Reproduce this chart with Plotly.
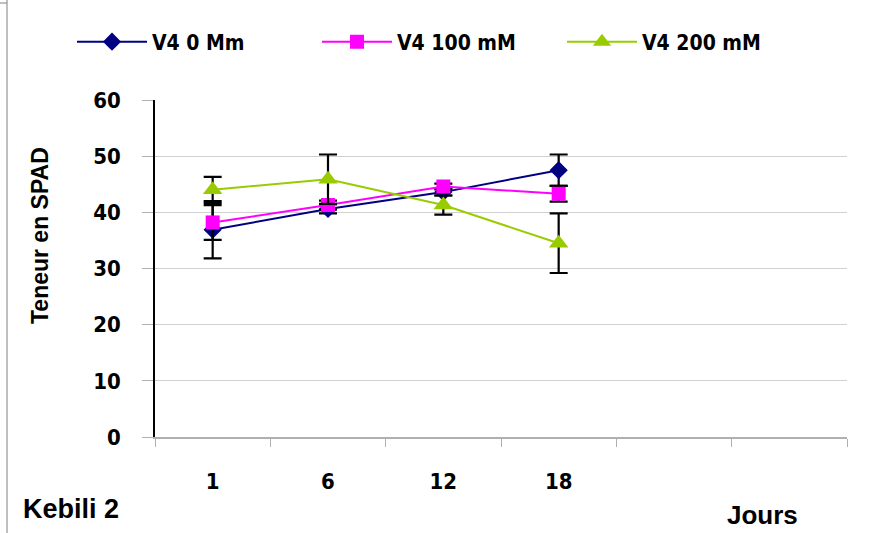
import plotly.graph_objects as go

days = ["1", "6", "12", "18"]
slots = days + [" ", "  "]  # Excel-style empty categories on the axis

series_names = ["V4 0 Mm", "V4 100 mM", "V4 200 mM"]
v0 = [36.9, 40.6, 43.6, 47.5]
v0_err = [5.1, 0.8, 0.6, 2.8]
v100 = [38.2, 41.3, 44.6, 43.3]
v100_err = [3.1, 0.8, 0.5, 1.4]
v200 = [44.0, 45.9, 41.3, 34.5]
v200_err = [2.3, 4.4, 1.7, 5.3]

colors = ["#000080", "#FF00FF", "#99CC00"]
symbols = ["diamond", "square", "triangle-up"]
sizes = [14, 14, 17]

W, H = 870, 533
L, R, T, B = 155, 23, 100, 96
pw = W - L - R
ph = H - T - B

cond = "DejaVu Sans Condensed, Liberation Sans Narrow, sans-serif"

fig = go.Figure()
for name, vals, errs, c, s, sz in zip(series_names, [v0, v100, v200],
                                      [v0_err, v100_err, v200_err],
                                      colors, symbols, sizes):
    fig.add_trace(go.Scatter(
        x=days, y=vals, name=name, mode="lines+markers",
        line=dict(color=c, width=2),
        marker=dict(symbol=s, size=sz, color=c, line=dict(width=0)),
        error_y=dict(type="data", array=errs, visible=True,
                     color="black", thickness=2.2, width=9),
    ))

fig.update_layout(
    width=W, height=H,
    margin=dict(l=L, r=R, t=T, b=B, pad=0, autoexpand=False),
    paper_bgcolor="white", plot_bgcolor="white",
    showlegend=True,
    legend=dict(orientation="h", x=(72 - L) / pw, xanchor="left",
                y=1 + (T - 42) / ph, yanchor="middle",
                font=dict(family=cond, size=21, color="black", weight="bold"),
                entrywidth=160, entrywidthmode="pixels",
                itemwidth=70, bgcolor="rgba(0,0,0,0)"),
    xaxis=dict(type="category", categoryorder="array", categoryarray=slots,
               range=[-0.5, len(slots) - 0.5],
               showline=True, linecolor="#b0b0b0", linewidth=1.5,
               ticks="outside", tickson="boundaries", ticklen=8,
               tickcolor="#b0b0b0", showgrid=False,
               tickfont=dict(family=cond, size=22, color="black", weight="bold"),
               ticklabelstandoff=24),
    yaxis=dict(range=[0, 60], tickvals=[0, 10, 20, 30, 40, 50, 60],
               showline=True, linecolor="black", linewidth=1.5,
               ticks="outside", ticklen=11, tickcolor="#b0b0b0",
               showgrid=True, gridcolor="#d0d0d0", gridwidth=1,
               zeroline=False,
               tickfont=dict(family=cond, size=22, color="black", weight="bold"),
               ticklabelstandoff=17),
    annotations=[
        dict(text="Teneur en SPAD", xref="paper", yref="paper",
             x=(40 - L) / pw, y=(437 - 236) / ph,
             textangle=-90, showarrow=False, xanchor="center", yanchor="middle",
             font=dict(family="Liberation Sans, Arial", size=23, color="black",
                       weight="bold")),
        dict(text="Kebili 2", xref="paper", yref="paper",
             x=(21 - L) / pw, y=(437 - 509) / ph,
             showarrow=False, xanchor="left", yanchor="middle",
             font=dict(family="Liberation Sans, Arial", size=27, color="black",
                       weight="bold")),
        dict(text="Jours", xref="paper", yref="paper",
             x=(762 - L) / pw, y=(437 - 515) / ph,
             showarrow=False, xanchor="center", yanchor="middle",
             font=dict(family="Liberation Sans, Arial", size=26, color="black",
                       weight="bold")),
    ],
    shapes=[
        dict(type="line", xref="paper", yref="paper",
             x0=(7 - L) / pw, x1=(7 - L) / pw,
             y0=(437 - 0) / ph, y1=(437 - H) / ph,
             line=dict(color="#808080", width=1)),
        dict(type="line", xref="paper", yref="paper",
             x0=(0 - L) / pw, x1=(7 - L) / pw,
             y0=(437 - 3) / ph, y1=(437 - 3) / ph,
             line=dict(color="#808080", width=1)),
    ],
)

fig.write_html("out.html", config={"displayModeBar": False},
               post_script="document.body.style.margin='0';document.body.style.overflow='hidden';")
